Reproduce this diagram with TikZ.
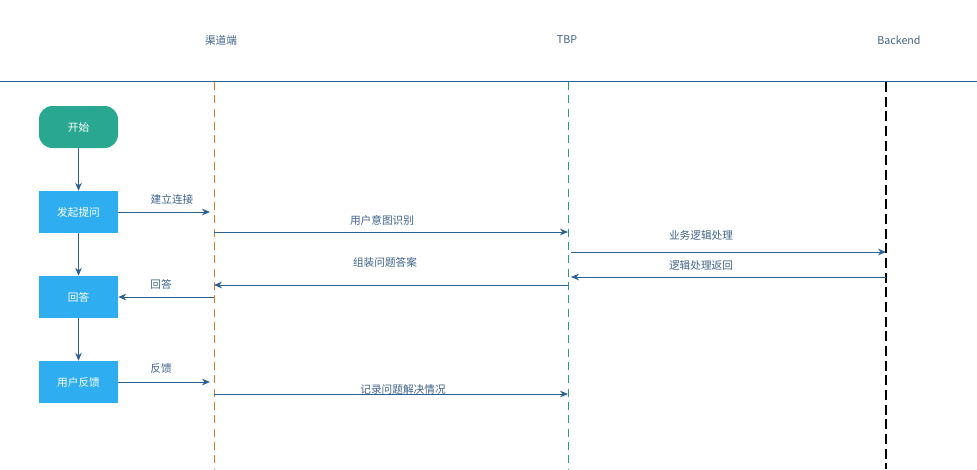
\documentclass[tikz,border=0pt]{standalone}
\usepackage{fontspec}
\setmainfont{Noto Sans CJK SC}
\usetikzlibrary{arrows.meta}
\definecolor{lineblue}{HTML}{2B6195}
\definecolor{txtblue}{HTML}{3F6288}
\definecolor{teal}{HTML}{2AA791}
\definecolor{boxblue}{HTML}{2EAEF0}
\definecolor{lforange}{HTML}{D9782D}
\definecolor{lfgreen}{HTML}{2E9A78}
\tikzset{
  x=0.75pt, y=-0.75pt,
  every node/.style={font=\fontsize{8}{10}\selectfont, inner sep=0pt},
  startbox/.style={fill=teal, rounded corners=10pt, minimum width=79*0.75pt, minimum height=42*0.75pt, text=white},
  procbox/.style={fill=boxblue, minimum width=79*0.75pt, minimum height=42*0.75pt, text=white},
  msg/.style={draw=lineblue, line width=0.7pt, -{Stealth[length=6pt,width=5pt]}},
  lbl/.style={text=txtblue},
  lifeline/.style={line width=0.6pt, dash pattern=on 6pt off 4pt},
}
\begin{document}
\begin{tikzpicture}
\useasboundingbox (0,0) rectangle (977,469);
% headers
\node[lbl] (h1) at (221,40) {渠道端};
\node[lbl] (h2) at (567,40) {TBP};
\node[lbl] (h3) at (899,40) {Backend};
\draw[lineblue, line width=0.75pt] (0,81) -- (977,81);
% lifelines
\coordinate (l1t) at (214,82); \coordinate (l1b) at (214,469);
\coordinate (l2t) at (568,82); \coordinate (l2b) at (568,469);
\coordinate (l3t) at (886,82); \coordinate (l3b) at (886,469);
\draw[lifeline, draw=lforange] (l1t) -- (l1b);
\draw[lifeline, draw=lfgreen] (l2t) -- (l2b);
\draw[lifeline, draw=black, line width=1.1pt, dash pattern=on 7.5pt off 3.5pt] (l3t) -- (l3b);
% flow boxes
\node[startbox] (start) at (78.5,127) {开始};
\node[procbox] (ask) at (78.5,212) {发起提问};
\node[procbox] (ans) at (78.5,297) {回答};
\node[procbox] (fb) at (78.5,382) {用户反馈};
\draw[msg] (start) -- (ask);
\draw[msg] (ask) -- (ans);
\draw[msg] (ans) -- (fb);
% coordinates on lifelines
\coordinate (a1) at (210,212);
\coordinate (b1) at (214,232); \coordinate (b2) at (568,232);
\coordinate (c1) at (571,252); \coordinate (c2) at (886,252);
\coordinate (d1) at (886,277); \coordinate (d2) at (571,277);
\coordinate (e1) at (568,285); \coordinate (e2) at (214,285);
\coordinate (f1) at (214,297);
\coordinate (g1) at (210,382);
\coordinate (k1) at (214,394); \coordinate (k2) at (568,394);
% messages
\draw[msg] (ask.east) -- (a1);
\node[lbl] (t1) at (172,199) {建立连接};
\draw[msg] (b1) -- (b2);
\node[lbl] (t2) at (382,220) {用户意图识别};
\draw[msg] (c1) -- (c2);
\node[lbl] (t3) at (701,235) {业务逻辑处理};
\draw[msg] (d1) -- (d2);
\node[lbl] (t4) at (701,265) {逻辑处理返回};
\draw[msg] (e1) -- (e2);
\node[lbl] (t5) at (385,262) {组装问题答案};
\draw[msg] (f1) -- (ans.east);
\node[lbl] (t6) at (161,284) {回答};
\draw[msg] (fb.east) -- (g1);
\node[lbl] (t7) at (161,368) {反馈};
\draw[msg] (k1) -- (k2);
\node[lbl] (t8) at (403,389) {记录问题解决情况};
\end{tikzpicture}
\end{document}
